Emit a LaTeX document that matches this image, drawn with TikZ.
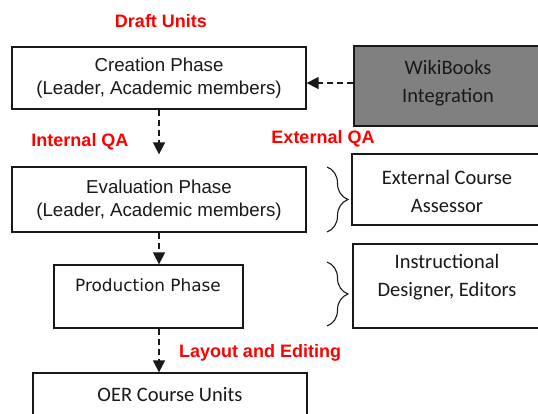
\documentclass[tikz,border=0pt]{standalone}
\usepackage{fontspec}
\setmainfont{Liberation Sans}
\newfontfamily\calibrilike{Carlito}
\newfontfamily\tahomalike{DejaVu Sans}
\usetikzlibrary{arrows.meta,decorations.pathreplacing}

\definecolor{qared}{RGB}{255,0,0}
\definecolor{wikigray}{RGB}{128,128,128}
\definecolor{ink}{RGB}{25,25,25}

\tikzset{
  phasebox/.style={draw=ink, line width=1.3pt, fill=white, inner sep=0pt},
  phasetext/.style={align=center, text=ink, inner sep=0pt,
    font=\fontsize{18.7}{23}\selectfont},
  sidetext/.style={align=center, text=ink, inner sep=0pt,
    font=\calibrilike\fontsize{20.5}{27.5}\selectfont},
  prodtext/.style={text=ink, inner sep=0pt,
    font=\tahomalike\fontsize{16.9}{20}\selectfont},
  qalabel/.style={text=qared, inner sep=0pt,
    font=\bfseries\fontsize{18}{21}\selectfont},
  flowarrow/.style={draw=ink, line width=1.6pt, dash pattern=on 6pt off 4pt,
    -{Triangle[width=12pt,length=12pt]}},
  bracket/.style={draw=ink, line width=1.1pt,
    decorate, decoration={brace, amplitude=21pt}}
}

\begin{document}
\begin{tikzpicture}[x=1pt, y=-1pt]
  \useasboundingbox (0,0) rectangle (538,413);

  % main workflow boxes
  \node[phasebox, minimum width=294pt, minimum height=62pt] (cre) at (159,78) {};
  \node[phasetext] (cretxt) at (159,78.5) {Creation Phase\\(Leader, Academic members)};

  \node[phasebox, minimum width=294pt, minimum height=65pt] (eval) at (159,199.5) {};
  \node[phasetext] (evaltxt) at (159,200) {Evaluation Phase\\(Leader, Academic members)};

  \node[phasebox, minimum width=189pt, minimum height=63pt] (prod) at (148.5,296.5) {};
  \node[prodtext] (prodtxt) at (148,285) {Production Phase};

  \node[phasebox, minimum width=274pt, minimum height=60pt] (oer) at (170,403) {};
  \node[sidetext] (oertxt) at (170,395) {OER Course Units};

  % side boxes (run off the right edge)
  \node[phasebox, fill=wikigray, minimum width=192pt, minimum height=80pt] (wiki) at (450,86) {};
  \node[sidetext] (wikitxt) at (448,83) {WikiBooks\\Integration};

  \node[phasebox, minimum width=194pt, minimum height=71pt] (ext) at (449,189.5) {};
  \node[sidetext] (exttxt) at (447,191.5) {External Course\\Assessor};

  \node[phasebox, minimum width=193pt, minimum height=84pt] (instr) at (449.5,286) {};
  \node[sidetext] (instrtxt) at (447,277) {Instructional\\Designer, Editors};

  % braces linking phases to their reviewers
  \coordinate (b1top) at (327,167);
  \coordinate (b1bot) at (327,232);
  \coordinate (b2top) at (327,262);
  \coordinate (b2bot) at (327,326);
  \draw[bracket] (b1top) -- (b1bot);
  \draw[bracket] (b2top) -- (b2bot);

  % red stage labels
  \node[qalabel] (draft) at (161,21) {Draft Units};
  \node[qalabel] (intqa) at (80,142) {Internal QA};
  \node[qalabel] (extqa) at (323,139) {External QA};
  \node[qalabel] (layout) at (260,353) {Layout and Editing};

  % dashed flow arrows
  \draw[flowarrow] (wiki.west |- 0,83) -- (cre.east |- 0,83);
  \draw[flowarrow, shorten >=12pt] (cre.south) -- (eval.north);
  \draw[flowarrow] (eval.south) -- (eval.south |- prod.north);
  \draw[flowarrow] (eval.south |- prod.south) -- (eval.south |- oer.north);
\end{tikzpicture}
\end{document}
